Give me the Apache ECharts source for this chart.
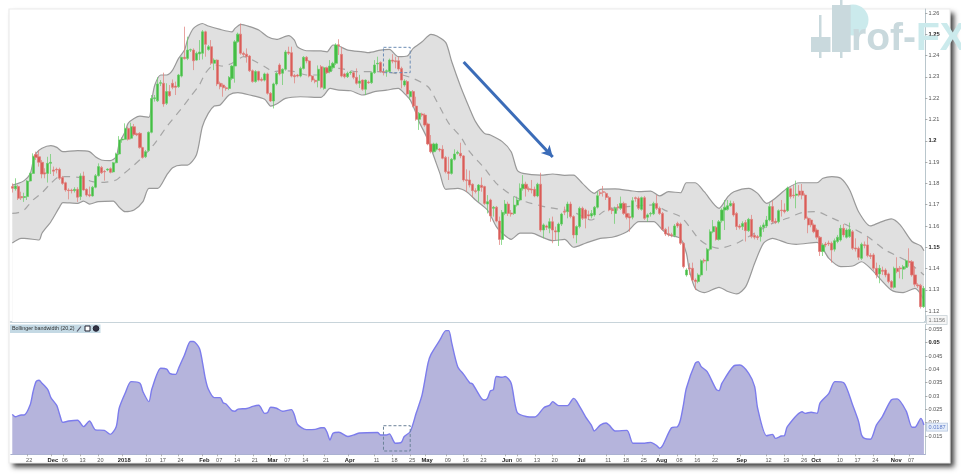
<!DOCTYPE html>
<html><head><meta charset="utf-8">
<style>html,body{margin:0;padding:0;background:#fff}#c{width:961px;height:474px}canvas{filter:blur(.4px)}</style>
<script src="https://cdn.jsdelivr.net/npm/echarts@6/dist/echarts.min.js"></script></head>
<body><div id="c"></div>
<script>
// each row: open, close, low, high
const candles=[
[1.1785,1.1777,1.1757,1.1800],[1.1775,1.1788,1.1766,1.1824],[1.1785,1.1730,1.1722,1.1793],[1.1738,1.1732,1.1722,1.1761],[1.1734,1.1738,1.1713,1.1756],
[1.1738,1.1811,1.1722,1.1816],[1.1811,1.1847,1.1808,1.1850],[1.1847,1.1928,1.1844,1.1941],[1.1936,1.1922,1.1910,1.1949],[1.1925,1.1899,1.1879,1.1954],
[1.1899,1.1844,1.1824,1.1910],[1.1850,1.1844,1.1824,1.1871],[1.1847,1.1894,1.1804,1.1925],[1.1894,1.1899,1.1844,1.1938],[1.1863,1.1857,1.1835,1.1879],
[1.1866,1.1863,1.1847,1.1874],[1.1866,1.1824,1.1816,1.1874],[1.1828,1.1800,1.1793,1.1835],[1.1803,1.1769,1.1761,1.1808],[1.1769,1.1766,1.1725,1.1777],
[1.1769,1.1766,1.1753,1.1775],[1.1766,1.1772,1.1757,1.1782],[1.1772,1.1735,1.1713,1.1782],[1.1738,1.1835,1.1722,1.1847],[1.1835,1.1769,1.1766,1.1855],
[1.1772,1.1745,1.1738,1.1777],[1.1747,1.1742,1.1735,1.1785],[1.1741,1.1782,1.1738,1.1788],[1.1782,1.1836,1.1777,1.1844],[1.1836,1.1879,1.1832,1.1894],
[1.1875,1.1850,1.1844,1.1882],[1.1856,1.1854,1.1813,1.1863],[1.1863,1.1867,1.1857,1.1871],[1.1869,1.1852,1.1847,1.1875],[1.1854,1.1897,1.1850,1.1900],
[1.1897,1.1938,1.1894,1.1944],[1.1938,1.2004,1.1933,1.2022],[1.2004,1.2008,1.1991,1.2016],[1.2007,1.2058,1.2004,1.2082],[1.2058,1.2007,1.2001,1.2066],
[1.2012,1.2066,1.2007,1.2085],[1.2066,1.2030,1.2022,1.2079],[1.2033,1.2028,1.2022,1.2038],[1.2035,1.1968,1.1963,1.2041],[1.1968,1.1922,1.1916,1.1972],
[1.1925,1.1949,1.1919,1.1957],[1.1954,1.2040,1.1949,1.2044],[1.2040,1.2199,1.2035,1.2215],[1.2198,1.2202,1.2184,1.2215],[1.2188,1.2267,1.2182,1.2298],
[1.2270,1.2273,1.2257,1.2285],[1.2270,1.2173,1.2160,1.2320],[1.2176,1.2231,1.2168,1.2270],[1.2231,1.2212,1.2207,1.2262],[1.2270,1.2251,1.2242,1.2288],
[1.2257,1.2251,1.2215,1.2278],[1.2254,1.2309,1.2249,1.2314],[1.2304,1.2392,1.2298,1.2395],[1.2392,1.2386,1.2382,1.2536],[1.2387,1.2426,1.2379,1.2489],
[1.2426,1.2428,1.2417,1.2433],[1.2426,1.2376,1.2332,1.2434],[1.2379,1.2411,1.2376,1.2419],[1.2408,1.2417,1.2379,1.2473],[1.2411,1.2512,1.2382,1.2520],
[1.2512,1.2453,1.2395,1.2517],[1.2429,1.2442,1.2423,1.2450],[1.2442,1.2364,1.2356,1.2473],[1.2364,1.2379,1.2332,1.2387],[1.2379,1.2267,1.2257,1.2382],
[1.2270,1.2254,1.2242,1.2278],[1.2262,1.2249,1.2207,1.2270],[1.2249,1.2245,1.2235,1.2257],[1.2246,1.2298,1.2238,1.2304],[1.2293,1.2351,1.2285,1.2357],
[1.2351,1.2465,1.2273,1.2473],[1.2465,1.2501,1.2461,1.2508],[1.2501,1.2411,1.2404,1.2551],[1.2411,1.2405,1.2395,1.2419],[1.2407,1.2395,1.2367,1.2434],
[1.2398,1.2329,1.2323,1.2403],[1.2329,1.2278,1.2273,1.2335],[1.2278,1.2325,1.2273,1.2332],[1.2325,1.2285,1.2279,1.2329],[1.2289,1.2284,1.2278,1.2298],
[1.2285,1.2314,1.2279,1.2320],[1.2314,1.2223,1.2217,1.2320],[1.2223,1.2187,1.2182,1.2229],[1.2187,1.2267,1.2152,1.2273],[1.2267,1.2317,1.2260,1.2323],
[1.2356,1.2314,1.2307,1.2364],[1.2317,1.2336,1.2262,1.2340],[1.2336,1.2417,1.2329,1.2426],[1.2417,1.2411,1.2403,1.2442],[1.2414,1.2304,1.2298,1.2442],
[1.2307,1.2301,1.2270,1.2314],[1.2309,1.2304,1.2298,1.2314],[1.2304,1.2340,1.2298,1.2348],[1.2340,1.2392,1.2335,1.2398],[1.2392,1.2375,1.2364,1.2398],
[1.2375,1.2304,1.2298,1.2379],[1.2304,1.2285,1.2276,1.2309],[1.2284,1.2278,1.2270,1.2292],[1.2283,1.2336,1.2251,1.2354],[1.2348,1.2251,1.2245,1.2356],
[1.2246,1.2343,1.2240,1.2348],[1.2343,1.2320,1.2314,1.2348],[1.2325,1.2351,1.2317,1.2379],[1.2343,1.2364,1.2335,1.2371],[1.2364,1.2450,1.2356,1.2458],
[1.2451,1.2446,1.2403,1.2477],[1.2406,1.2304,1.2298,1.2442],[1.2314,1.2301,1.2293,1.2320],[1.2301,1.2317,1.2295,1.2325],[1.2320,1.2323,1.2310,1.2329],
[1.2320,1.2298,1.2289,1.2326],[1.2298,1.2270,1.2264,1.2340],[1.2270,1.2281,1.2248,1.2310],[1.2285,1.2242,1.2235,1.2288],[1.2242,1.2285,1.2215,1.2288],
[1.2276,1.2273,1.2267,1.2283],[1.2273,1.2320,1.2267,1.2326],[1.2320,1.2356,1.2314,1.2379],[1.2361,1.2364,1.2329,1.2395],[1.2368,1.2325,1.2320,1.2373],
[1.2326,1.2321,1.2307,1.2340],[1.2325,1.2329,1.2301,1.2335],[1.2325,1.2379,1.2320,1.2386],[1.2379,1.2374,1.2364,1.2407],[1.2376,1.2371,1.2340,1.2395],
[1.2376,1.2337,1.2329,1.2395],[1.2340,1.2285,1.2246,1.2348],[1.2262,1.2281,1.2254,1.2289],[1.2278,1.2220,1.2215,1.2285],[1.2207,1.2231,1.2192,1.2238],
[1.2231,1.2163,1.2157,1.2238],[1.2163,1.2101,1.2094,1.2207],[1.2101,1.2129,1.2051,1.2135],[1.2126,1.2121,1.2113,1.2132],[1.2121,1.2074,1.2066,1.2129],
[1.2079,1.1985,1.1979,1.2085],[1.1985,1.1949,1.1941,1.2027],[1.1949,1.1985,1.1944,1.1991],[1.1960,1.1985,1.1954,1.1991],[1.1961,1.1957,1.1949,1.1966],
[1.1960,1.1918,1.1913,1.1979],[1.1922,1.1855,1.1847,1.1929],[1.1855,1.1847,1.1816,1.1925],[1.1847,1.1913,1.1841,1.1919],[1.1913,1.1938,1.1907,1.1960],
[1.1941,1.1946,1.1935,1.1954],[1.1941,1.1929,1.1918,1.1991],[1.1929,1.1816,1.1808,1.1933],[1.1817,1.1813,1.1761,1.1866],[1.1816,1.1792,1.1781,1.1860],
[1.1796,1.1766,1.1735,1.1800],[1.1766,1.1762,1.1753,1.1777],[1.1766,1.1792,1.1714,1.1797],[1.1791,1.1781,1.1761,1.1828],[1.1785,1.1706,1.1699,1.1789],
[1.1703,1.1714,1.1659,1.1745],[1.1722,1.1647,1.1620,1.1728],[1.1683,1.1688,1.1644,1.1694],[1.1688,1.1623,1.1617,1.1694],[1.1623,1.1537,1.1511,1.1644],
[1.1537,1.1664,1.1511,1.1675],[1.1659,1.1703,1.1651,1.1722],[1.1703,1.1659,1.1647,1.1714],[1.1661,1.1656,1.1644,1.1675],[1.1659,1.1698,1.1652,1.1738],
[1.1698,1.1722,1.1691,1.1738],[1.1722,1.1777,1.1716,1.1800],[1.1775,1.1796,1.1766,1.1839],[1.1796,1.1775,1.1738,1.1808],[1.1775,1.1771,1.1761,1.1785],
[1.1772,1.1769,1.1753,1.1816],[1.1772,1.1741,1.1735,1.1785],[1.1741,1.1796,1.1735,1.1803],[1.1796,1.1581,1.1573,1.1850],[1.1581,1.1605,1.1542,1.1612],
[1.1600,1.1594,1.1581,1.1606],[1.1589,1.1620,1.1566,1.1636],[1.1620,1.1581,1.1519,1.1644],[1.1577,1.1572,1.1534,1.1597],[1.1572,1.1609,1.1506,1.1616],
[1.1609,1.1656,1.1600,1.1662],[1.1669,1.1665,1.1651,1.1691],[1.1667,1.1703,1.1636,1.1714],[1.1703,1.1644,1.1636,1.1714],[1.1644,1.1558,1.1542,1.1650],
[1.1558,1.1597,1.1519,1.1603],[1.1597,1.1683,1.1589,1.1691],[1.1683,1.1636,1.1628,1.1691],[1.1675,1.1636,1.1589,1.1681],[1.1653,1.1647,1.1628,1.1672],
[1.1647,1.1659,1.1636,1.1675],[1.1652,1.1688,1.1644,1.1694],[1.1688,1.1742,1.1682,1.1761],[1.1756,1.1752,1.1742,1.1766],[1.1761,1.1758,1.1738,1.1788],
[1.1753,1.1734,1.1722,1.1760],[1.1734,1.1675,1.1669,1.1741],[1.1678,1.1672,1.1656,1.1688],[1.1659,1.1683,1.1610,1.1691],[1.1690,1.1685,1.1672,1.1703],
[1.1683,1.1706,1.1675,1.1738],[1.1706,1.1659,1.1652,1.1714],[1.1659,1.1641,1.1631,1.1706],[1.1644,1.1638,1.1573,1.1659],[1.1641,1.1719,1.1631,1.1735],
[1.1733,1.1729,1.1714,1.1738],[1.1730,1.1683,1.1675,1.1738],[1.1678,1.1733,1.1672,1.1738],[1.1733,1.1636,1.1628,1.1741],[1.1641,1.1652,1.1620,1.1659],
[1.1656,1.1659,1.1644,1.1666],[1.1657,1.1706,1.1651,1.1714],[1.1706,1.1683,1.1675,1.1745],[1.1683,1.1659,1.1652,1.1691],[1.1659,1.1584,1.1578,1.1666],
[1.1584,1.1562,1.1553,1.1591],[1.1564,1.1559,1.1550,1.1597],[1.1559,1.1555,1.1547,1.1568],[1.1555,1.1600,1.1547,1.1609],[1.1612,1.1600,1.1591,1.1620],
[1.1609,1.1519,1.1511,1.1616],[1.1519,1.1409,1.1401,1.1525],[1.1370,1.1393,1.1362,1.1401],[1.1403,1.1399,1.1370,1.1425],[1.1401,1.1346,1.1339,1.1428],
[1.1346,1.1339,1.1299,1.1354],[1.1339,1.1370,1.1331,1.1378],[1.1370,1.1437,1.1362,1.1443],[1.1439,1.1435,1.1425,1.1447],[1.1436,1.1491,1.1390,1.1497],
[1.1491,1.1573,1.1484,1.1584],[1.1573,1.1597,1.1566,1.1628],[1.1594,1.1537,1.1531,1.1600],[1.1537,1.1620,1.1531,1.1628],[1.1625,1.1675,1.1616,1.1683],
[1.1675,1.1688,1.1581,1.1722],[1.1678,1.1695,1.1672,1.1722],[1.1695,1.1706,1.1691,1.1719],[1.1706,1.1652,1.1644,1.1716],[1.1659,1.1597,1.1581,1.1666],
[1.1600,1.1594,1.1584,1.1609],[1.1597,1.1612,1.1581,1.1622],[1.1616,1.1578,1.1527,1.1628],[1.1578,1.1631,1.1572,1.1638],[1.1631,1.1550,1.1542,1.1652],
[1.1556,1.1547,1.1537,1.1569],[1.1550,1.1545,1.1534,1.1558],[1.1550,1.1594,1.1527,1.1603],[1.1594,1.1605,1.1572,1.1616],[1.1600,1.1628,1.1591,1.1647],
[1.1628,1.1691,1.1622,1.1706],[1.1691,1.1620,1.1612,1.1719],[1.1622,1.1617,1.1609,1.1636],[1.1620,1.1672,1.1612,1.1678],[1.1675,1.1672,1.1644,1.1722],
[1.1675,1.1667,1.1659,1.1706],[1.1672,1.1778,1.1666,1.1785],[1.1775,1.1738,1.1728,1.1781],[1.1745,1.1742,1.1730,1.1792],[1.1744,1.1750,1.1683,1.1813],
[1.1764,1.1745,1.1738,1.1792],[1.1764,1.1744,1.1725,1.1797],[1.1745,1.1636,1.1628,1.1753],[1.1636,1.1605,1.1566,1.1644],[1.1628,1.1605,1.1594,1.1636],
[1.1605,1.1573,1.1566,1.1612],[1.1581,1.1547,1.1537,1.1589],[1.1547,1.1480,1.1459,1.1553],[1.1480,1.1511,1.1459,1.1519],[1.1515,1.1511,1.1500,1.1525],
[1.1520,1.1516,1.1506,1.1531],[1.1519,1.1487,1.1428,1.1527],[1.1491,1.1531,1.1480,1.1541],[1.1527,1.1547,1.1519,1.1558],[1.1534,1.1589,1.1527,1.1605],
[1.1589,1.1558,1.1547,1.1609],[1.1547,1.1581,1.1541,1.1589],[1.1550,1.1584,1.1544,1.1616],[1.1573,1.1495,1.1487,1.1581],[1.1497,1.1492,1.1480,1.1542],
[1.1495,1.1453,1.1440,1.1503],[1.1448,1.1514,1.1440,1.1522],[1.1512,1.1508,1.1495,1.1527],[1.1511,1.1461,1.1453,1.1547],[1.1462,1.1457,1.1445,1.1472],
[1.1464,1.1401,1.1390,1.1472],[1.1401,1.1370,1.1354,1.1428],[1.1375,1.1401,1.1331,1.1417],[1.1392,1.1387,1.1370,1.1409],[1.1393,1.1370,1.1359,1.1401],
[1.1375,1.1339,1.1331,1.1381],[1.1339,1.1312,1.1306,1.1346],[1.1312,1.1401,1.1306,1.1409],[1.1401,1.1386,1.1378,1.1453],[1.1403,1.1399,1.1354,1.1412],
[1.1397,1.1409,1.1350,1.1417],[1.1405,1.1437,1.1397,1.1443],[1.1434,1.1429,1.1409,1.1495],[1.1432,1.1370,1.1362,1.1440],[1.1370,1.1326,1.1315,1.1409],
[1.1323,1.1319,1.1309,1.1331],[1.1321,1.1221,1.1212,1.1328],[1.1221,1.1307,1.1215,1.1318]];

// [bar number, value]
const upperBand=[[0,1.1792],[2,1.1800],[4,1.1813],[6,1.1844],[7,1.1902],[8,1.1941],[10,1.1965],[13,1.1977],[15,1.1969],[17,1.1949],[22,1.1954],[26,1.1949],[28,1.1925],[30,1.1910],[33,1.1907],[35,1.1925],[36,1.1988],[38,1.2043],[39,1.2082],[41,1.2105],[43,1.2116],[46,1.2110],[47,1.2192],[48,1.2262],[50,1.2309],[52,1.2309],[54,1.2332],[56,1.2387],[58,1.2426],[59,1.2473],[61,1.2528],[64,1.2551],[66,1.2539],[70,1.2523],[74,1.2512],[75,1.2528],[77,1.2547],[80,1.2536],[83,1.2520],[86,1.2489],[89,1.2476],[93,1.2494],[95,1.2473],[96,1.2442],[99,1.2423],[104,1.2422],[106,1.2418],[108,1.2450],[110,1.2445],[113,1.2426],[118,1.2418],[120,1.2414],[124,1.2426],[127,1.2429],[130,1.2395],[133,1.2398],[135,1.2434],[138,1.2465],[141,1.2500],[143,1.2492],[146,1.2461],[148,1.2371],[151,1.2254],[154,1.2152],[156,1.2090],[159,1.2035],[161,1.2027],[165,1.1996],[168,1.1949],[170,1.1863],[172,1.1847],[178,1.1839],[182,1.1844],[186,1.1838],[189,1.1839],[192,1.1800],[196,1.1753],[198,1.1772],[203,1.1774],[208,1.1766],[211,1.1761],[215,1.1764],[218,1.1741],[221,1.1761],[225,1.1756],[227,1.1803],[230,1.1803],[233,1.1761],[238,1.1683],[241,1.1738],[243,1.1761],[248,1.1777],[251,1.1753],[254,1.1706],[261,1.1777],[265,1.1803],[271,1.1803],[273,1.1824],[276,1.1832],[279,1.1824],[282,1.1769],[285,1.1667],[289,1.1600],[292,1.1616],[296,1.1633],[299,1.1605],[303,1.1527],[306,1.1506],[307,1.1484]];
const lowerBand=[[0,1.1520],[3,1.1542],[4,1.1542],[9,1.1534],[10,1.1566],[13,1.1620],[16,1.1691],[17,1.1710],[22,1.1706],[24,1.1717],[26,1.1703],[29,1.1714],[34,1.1717],[36,1.1688],[38,1.1667],[41,1.1675],[44,1.1714],[46,1.1777],[49,1.1777],[52,1.1839],[54,1.1874],[57,1.1886],[59,1.1886],[62,1.1933],[64,1.2066],[66,1.2129],[68,1.2163],[70,1.2168],[73,1.2215],[76,1.2226],[80,1.2215],[85,1.2195],[87,1.2163],[89,1.2173],[92,1.2199],[97,1.2207],[104,1.2204],[105,1.2215],[107,1.2246],[110,1.2238],[114,1.2235],[118,1.2215],[122,1.2231],[126,1.2238],[130,1.2246],[132,1.2223],[134,1.2192],[136,1.2129],[137,1.2090],[140,1.2004],[142,1.1925],[144,1.1847],[146,1.1772],[150,1.1777],[153,1.1761],[156,1.1722],[160,1.1675],[163,1.1597],[165,1.1566],[168,1.1537],[171,1.1566],[175,1.1566],[178,1.1550],[182,1.1531],[186,1.1537],[189,1.1500],[193,1.1519],[198,1.1542],[202,1.1547],[207,1.1573],[211,1.1620],[216,1.1620],[219,1.1581],[221,1.1558],[225,1.1542],[227,1.1472],[228,1.1393],[230,1.1307],[233,1.1287],[238,1.1312],[241,1.1292],[244,1.1281],[247,1.1315],[250,1.1425],[253,1.1519],[256,1.1542],[261,1.1519],[264,1.1514],[271,1.1523],[275,1.1448],[279,1.1409],[283,1.1412],[286,1.1432],[289,1.1401],[296,1.1299],[300,1.1287],[304,1.1307],[307,1.1253]];
const middleBand=[[0,1.1659],[2,1.1663],[4,1.1675],[7,1.1722],[10,1.1756],[13,1.1800],[16,1.1832],[18,1.1832],[23,1.1827],[27,1.1808],[31,1.1805],[35,1.1816],[37,1.1839],[41,1.1886],[44,1.1925],[48,1.1988],[52,1.2066],[57,1.2152],[60,1.2207],[63,1.2262],[65,1.2317],[68,1.2356],[71,1.2351],[74,1.2364],[78,1.2395],[81,1.2379],[85,1.2348],[88,1.2325],[91,1.2329],[95,1.2325],[99,1.2309],[103,1.2309],[110,1.2340],[116,1.2325],[123,1.2325],[129,1.2317],[135,1.2293],[140,1.2254],[143,1.2184],[147,1.2082],[151,1.2019],[154,1.1949],[159,1.1871],[163,1.1800],[168,1.1746],[173,1.1714],[180,1.1688],[186,1.1675],[190,1.1659],[195,1.1628],[199,1.1667],[202,1.1683],[210,1.1694],[216,1.1699],[220,1.1672],[225,1.1644],[228,1.1597],[231,1.1542],[234,1.1511],[238,1.1495],[244,1.1519],[247,1.1542],[250,1.1566],[256,1.1612],[261,1.1636],[266,1.1663],[271,1.1667],[275,1.1644],[281,1.1605],[288,1.1550],[294,1.1487],[301,1.1437],[307,1.1370]];
const bandwidth=[[0,.0231],[1,.0222],[3,.0229],[4,.0229],[6,.0266],[7,.0316],[8,.0354],[9,.0359],[10,.0348],[12,.0323],[13,.0294],[15,.0264],[16,.0229],[17,.0201],[19,.0206],[22,.0209],[24,.0185],[26,.0206],[28,.0173],[31,.0171],[33,.0156],[35,.0185],[36,.0254],[38,.0310],[40,.0354],[43,.0348],[44,.0316],[46,.0279],[47,.0326],[50,.0404],[52,.0401],[53,.0385],[55,.0381],[56,.0404],[58,.0454],[60,.0504],[61,.0504],[63,.0479],[64,.0429],[65,.0366],[66,.0326],[68,.0294],[70,.0294],[71,.0275],[72,.0270],[74,.0245],[75,.0243],[76,.0251],[79,.0253],[81,.0261],[83,.0265],[85,.0235],[86,.0238],[87,.0258],[89,.0254],[91,.0243],[94,.0249],[95,.0229],[96,.0194],[99,.0174],[102,.0175],[104,.0181],[105,.0181],[106,.0164],[107,.0135],[108,.0160],[110,.0164],[113,.0148],[115,.0154],[117,.0161],[123,.0163],[124,.0154],[126,.0154],[127,.0158],[129,.0123],[131,.0126],[132,.0148],[134,.0166],[136,.0235],[138,.0304],[140,.0423],[141,.0456],[144,.0510],[146,.0545],[147,.0545],[148,.0498],[150,.0410],[152,.0381],[154,.0350],[155,.0345],[158,.0291],[159,.0285],[160,.0291],[161,.0319],[162,.0323],[163,.0373],[165,.0370],[166,.0373],[168,.0348],[170,.0239],[173,.0223],[176,.0221],[179,.0256],[181,.0266],[182,.0279],[184,.0264],[187,.0264],[189,.0291],[190,.0281],[193,.0223],[195,.0191],[196,.0169],[198,.0191],[200,.0199],[201,.0191],[203,.0169],[207,.0171],[209,.0123],[211,.0123],[213,.0123],[215,.0126],[217,.0114],[218,.0104],[219,.0114],[222,.0181],[224,.0185],[225,.0210],[226,.0266],[227,.0329],[230,.0423],[231,.0429],[232,.0410],[234,.0391],[237,.0326],[238,.0320],[239,.0348],[243,.0413],[245,.0416],[248,.0385],[250,.0335],[251,.0254],[254,.0151],[256,.0156],[257,.0141],[259,.0150],[260,.0151],[261,.0185],[266,.0241],[267,.0235],[269,.0239],[271,.0235],[272,.0273],[275,.0310],[277,.0354],[280,.0350],[283,.0266],[285,.0204],[286,.0154],[287,.0141],[289,.0138],[291,.0191],[293,.0223],[296,.0285],[298,.0289],[301,.0244],[303,.0183],[304,.0183],[306,.0216],[307,.0191]];

const dateTickBars=[5,13,17,23,29,37,45,50,56,64,69,75,81,87,92,98,105,113,122,128,134,139,146,152,158,166,170,176,182,191,200,206,212,218,224,230,236,245,254,260,266,270,278,284,290,297,302];
const dateTickText=['22','Dec','06','13','20','2018','10','17','24','Feb','07','14','21','Mar','07','14','21','Apr','11','18','25','May','09','16','23','Jun','06','13','20','Jul','11','18','25','Aug','08','16','22','Sep','12','19','26','Oct','10','17','24','Nov','07'];
const priceTicks=[1.12,1.13,1.14,1.15,1.16,1.17,1.18,1.19,1.2,1.21,1.22,1.23,1.24,1.25,1.26];
const priceBold=[1.25,1.2,1.15];
const bwTicks=[0.015,0.02,0.025,0.03,0.035,0.04,0.045,0.05,0.055];
const bwBold=[0.05];
const arrowFrom=[152,1.2370], arrowTo=[182,1.1924];
const priceBoxOutline=[[125,1.2439],[134,1.2439],[134,1.2320],[125,1.2320],[125,1.2439]];
const bwBoxOutline=[[125,0.01886],[134,0.01886],[134,0.00938],[125,0.00938],[125,0.01886]];
const lastPrice='1.1156', lastBandwidth='0.0187';
const indicatorTitle='Bollinger bandwidth (20,2)';

const categories=candles.map((_,i)=>'b'+i);
const tickMap={};dateTickBars.forEach((b,k)=>tickMap[b]=dateTickText[k]);
const monthNames=['Dec','2018','Feb','Mar','Apr','May','Jun','Jul','Aug','Sep','Oct','Nov'];
const txt='#555';
const F='"Liberation Sans",Arial,sans-serif';
const axisRich={n:{fontSize:5.6,color:txt,fontFamily:F},b:{fontSize:5.8,color:'#222',fontWeight:'bold',fontFamily:F}};
const yAxisCommon={type:'value',position:'right',scale:true,splitLine:{show:false},
  axisLine:{show:true,onZero:false,lineStyle:{color:'#b9c6cc',width:1}},
  axisTick:{show:true,length:2,lineStyle:{color:'#777',width:.6}}};

const chart=echarts.init(document.getElementById('c'),null,{renderer:'canvas',width:961,height:474});
const wm={g:'#c9d9dd',t:'#cbeaec'};
chart.setOption({
 animation:false,backgroundColor:'#fff',
 grid:[{left:10.8,right:35.6,top:9,height:313},{left:10.8,right:35.6,top:324.5,height:129.8}],
 xAxis:[
  {type:'category',gridIndex:0,data:categories,boundaryGap:true,axisLine:{show:true,onZero:false,lineStyle:{color:'#c8d4da',width:2}},axisTick:{show:false},axisLabel:{show:false},splitLine:{show:false}},
  {type:'category',gridIndex:1,data:categories,boundaryGap:true,axisLine:{show:true,onZero:false,lineStyle:{color:'#a9b0cf',width:1}},
   axisTick:{show:true,length:2,alignWithLabel:true,interval:(i)=>tickMap[i]!==undefined,lineStyle:{color:'#888',width:.6}},
   axisLabel:{interval:0,margin:3.5,padding:[0,0,0,4],hideOverlap:false,formatter:(v,i)=>{const t=tickMap[i];if(t===undefined)return '';return monthNames.includes(t)?'{b|'+t+'}':'{n|'+t+'}';},rich:axisRich},splitLine:{show:false}}
 ],
 yAxis:[
  Object.assign({},yAxisCommon,{gridIndex:0,min:1.1149,max:1.2619,
    axisTick:Object.assign({},yAxisCommon.axisTick,{customValues:priceTicks}),
    axisLabel:{customValues:priceTicks,margin:3,formatter:v=>{const s=String(+(+v).toFixed(2));return priceBold.includes(+s)?'{b|'+s+'}':'{n|'+s+'}';},rich:axisRich}}),
  Object.assign({},yAxisCommon,{gridIndex:1,min:0.00814,max:0.0568,
    axisTick:Object.assign({},yAxisCommon.axisTick,{customValues:bwTicks}),
    axisLabel:{customValues:bwTicks,margin:3,formatter:v=>{const s=(+v).toFixed(3).replace(/0$/,'');return bwBold.includes(+s)?'{b|'+s+'}':'{n|'+s+'}';},rich:axisRich}})
 ],
 series:[
  {name:'upper',type:'line',xAxisIndex:0,yAxisIndex:0,data:upperBand,showSymbol:false,smooth:.25,z:1,lineStyle:{color:'#999',width:1.2},areaStyle:{color:'#e0e0e0',origin:'start',opacity:1}},
  {name:'lower',type:'line',xAxisIndex:0,yAxisIndex:0,data:lowerBand,showSymbol:false,smooth:.25,z:2,lineStyle:{color:'#999',width:1.2},areaStyle:{color:'#fff',origin:'start',opacity:1}},
  {name:'middle',type:'line',xAxisIndex:0,yAxisIndex:0,data:middleBand,showSymbol:false,smooth:.25,z:3,lineStyle:{color:'#a5a5a5',width:1.2,type:[7,6]},
   markLine:{silent:true,symbol:['none','arrow'],symbolSize:[9,11],label:{show:false},lineStyle:{color:'#3b6cb8',width:3,type:'solid'},emphasis:{disabled:true},
     data:[[{xAxis:arrowFrom[0],yAxis:arrowFrom[1]},{xAxis:arrowTo[0],yAxis:arrowTo[1]}]]}},
  {name:'price',type:'candlestick',xAxisIndex:0,yAxisIndex:0,data:candles,barWidth:2.6,z:4,
   itemStyle:{color:'#45bd45',color0:'#d95c58',borderColor:'#66cb66',borderColor0:'#df7d79',borderWidth:.7}},
  {name:'priceBox',type:'line',xAxisIndex:0,yAxisIndex:0,data:priceBoxOutline,showSymbol:false,z:5,silent:true,lineStyle:{color:'#6d8db5',width:1,type:[3,2]}},
  {name:'bandwidth',type:'line',xAxisIndex:1,yAxisIndex:1,data:bandwidth,showSymbol:false,smooth:.25,z:3,lineStyle:{color:'#7c7cec',width:1.4},areaStyle:{color:'#b5b4dc',origin:'start',opacity:1}},
  {name:'bwBox',type:'line',xAxisIndex:1,yAxisIndex:1,data:bwBoxOutline,showSymbol:false,z:5,silent:true,lineStyle:{color:'#6b8299',width:1,type:[3,2]}}
 ],
 graphic:[
  {type:'rect',z:-11,silent:true,shape:{x:9,y:9,width:941,height:454},style:{fill:'#fff',shadowBlur:5,shadowOffsetX:4,shadowOffsetY:4,shadowColor:'rgba(30,30,30,.85)'}},
  {type:'rect',z:-10,silent:true,shape:{x:9,y:9,width:941,height:454},style:{fill:'#fff',stroke:'#ececec',lineWidth:1.2}},
  // indicator title
  {type:'rect',z:50,silent:true,shape:{x:10,y:324.5,width:90.5,height:8.5},style:{fill:'#c4d9e4'}},
  {type:'text',z:51,silent:true,x:12,y:325.8,style:{text:indicatorTitle,font:'5.4px '+F,fill:'#333'}},
  {type:'rect',z:51,silent:true,shape:{x:85,y:326,width:5,height:5},style:{fill:'#fff',stroke:'#223',lineWidth:1}},
  {type:'circle',z:51,silent:true,shape:{cx:96,cy:328.5,r:2.8},style:{fill:'#334',stroke:'#223'}},
  {type:'line',z:51,silent:true,shape:{x1:77,y1:331.5,x2:81,y2:326.5},style:{stroke:'#556',lineWidth:1.2}},
  // last values
  {type:'text',z:60,silent:true,x:927,y:316,style:{text:lastPrice,font:'5.6px '+F,fill:'#777',backgroundColor:'#f6f6f6',borderColor:'#c4cdd2',borderWidth:.8,padding:[1,1.5]}},
  {type:'text',z:60,silent:true,x:927,y:423.5,style:{text:lastBandwidth,font:'5.6px '+F,fill:'#5a78c8',backgroundColor:'#e6eefa',borderColor:'#b6c6de',borderWidth:.8,padding:[.6,1.5]}},
  // watermark
  {type:'circle',z:70,silent:true,shape:{cx:853,cy:20,r:15.5},style:{fill:wm.t}},
  {type:'rect',z:71,silent:true,shape:{x:811,y:37,width:19.5,height:15},style:{fill:wm.g}},
  {type:'rect',z:71,silent:true,shape:{x:819,y:15,width:2.5,height:43},style:{fill:wm.g}},
  {type:'rect',z:71,silent:true,shape:{x:832,y:5,width:18.7,height:47},style:{fill:wm.g}},
  {type:'rect',z:71,silent:true,shape:{x:840,y:0,width:2.5,height:58},style:{fill:wm.g}},
  {type:'text',z:72,silent:true,x:851,y:59,style:{text:'rof-',font:'bold 39px '+F,fill:wm.g,verticalAlign:'bottom'}},
  {type:'text',z:72,silent:true,x:916,y:59,style:{text:'FX',font:'bold 39px '+F,fill:wm.t,verticalAlign:'bottom'}}
 ]
});
</script></body></html>
